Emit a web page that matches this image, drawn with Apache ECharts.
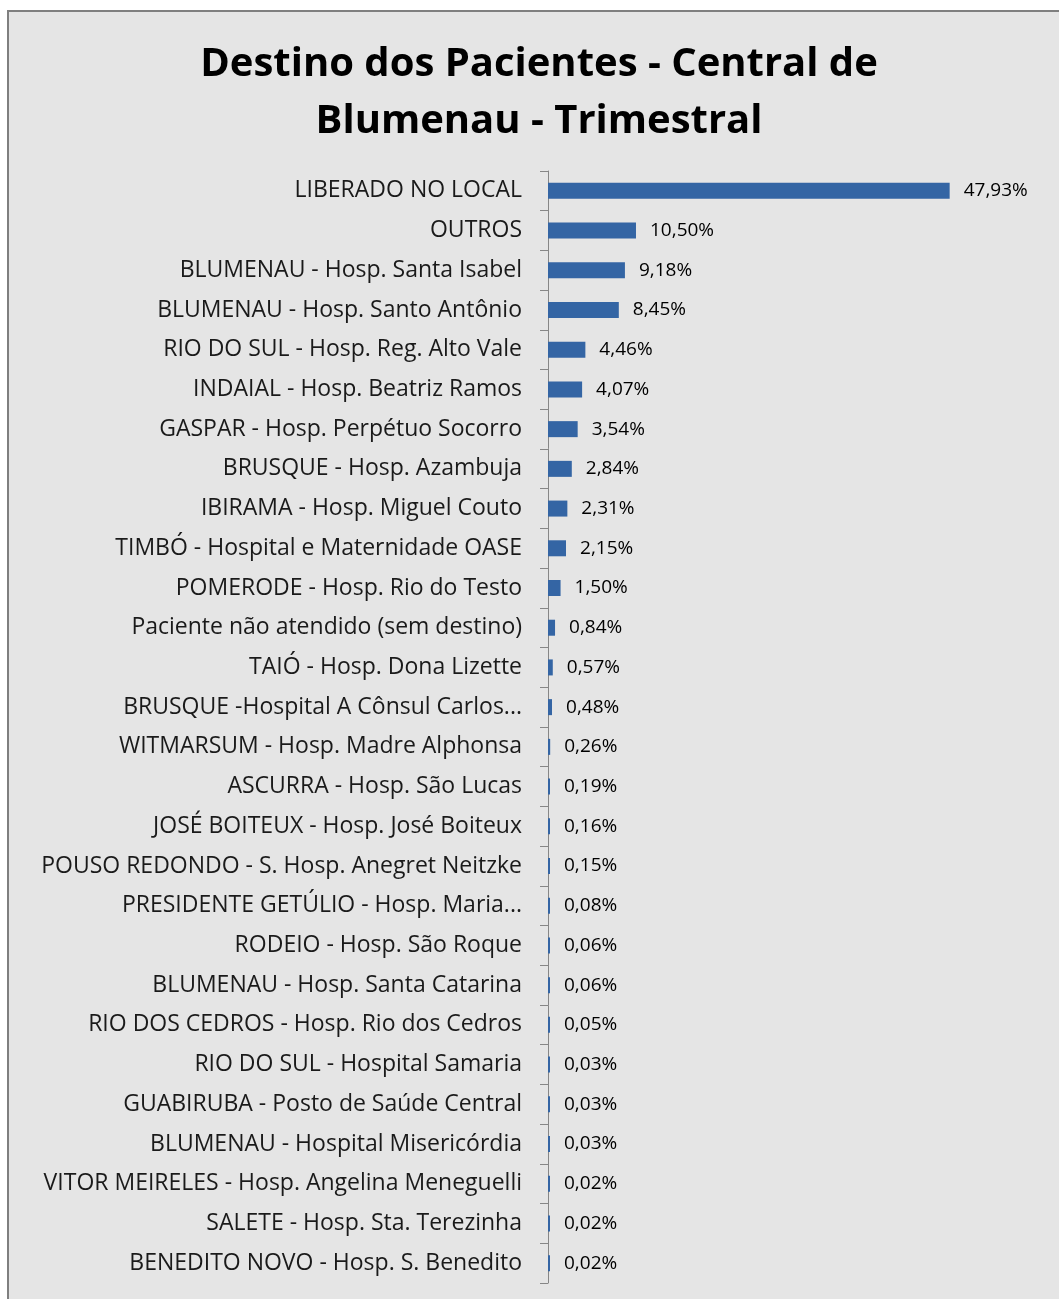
<!DOCTYPE html>
<html>
<head>
<meta charset="utf-8">
<script src="https://cdn.jsdelivr.net/npm/echarts@6/dist/echarts.min.js"></script>
<style>
html, body { margin: 0; padding: 0; background: #fff; overflow: hidden; }
#main {
    position: absolute; left: 7px; top: 10px;
    width: 1060px; height: 1290px;
    border: 2px solid #7f7f7f;
    background: #e5e5e5;
}
</style>
</head>
<body>
<div id="main"></div>
<script>
var titleText = 'Destino dos Pacientes - Central de\nBlumenau - Trimestral';

var destinos = [
    'LIBERADO NO LOCAL',
    'OUTROS',
    'BLUMENAU - Hosp. Santa Isabel',
    'BLUMENAU - Hosp. Santo Antônio',
    'RIO DO SUL - Hosp. Reg. Alto Vale',
    'INDAIAL - Hosp. Beatriz Ramos',
    'GASPAR - Hosp. Perpétuo Socorro',
    'BRUSQUE - Hosp. Azambuja',
    'IBIRAMA - Hosp. Miguel Couto',
    'TIMBÓ - Hospital e Maternidade OASE',
    'POMERODE - Hosp. Rio do Testo',
    'Paciente não atendido (sem destino)',
    'TAIÓ - Hosp. Dona Lizette',
    'BRUSQUE -Hospital A Cônsul Carlos...',
    'WITMARSUM - Hosp. Madre Alphonsa',
    'ASCURRA - Hosp. São Lucas',
    'JOSÉ BOITEUX - Hosp. José Boiteux',
    'POUSO REDONDO - S. Hosp. Anegret Neitzke',
    'PRESIDENTE GETÚLIO - Hosp. Maria...',
    'RODEIO - Hosp. São Roque',
    'BLUMENAU - Hosp. Santa Catarina',
    'RIO DOS CEDROS - Hosp. Rio dos Cedros',
    'RIO DO SUL - Hospital Samaria',
    'GUABIRUBA - Posto de Saúde Central',
    'BLUMENAU - Hospital Misericórdia',
    'VITOR MEIRELES - Hosp. Angelina Meneguelli',
    'SALETE - Hosp. Sta. Terezinha',
    'BENEDITO NOVO - Hosp. S. Benedito'
];

var percentuais = [
    47.93, 10.50, 9.18, 8.45, 4.46, 4.07, 3.54, 2.84, 2.31, 2.15,
    1.50, 0.84, 0.57, 0.48, 0.26, 0.19, 0.16, 0.15, 0.08, 0.06,
    0.06, 0.05, 0.03, 0.03, 0.03, 0.02, 0.02, 0.02
];

var chart = echarts.init(document.getElementById('main'));
var option = {
    backgroundColor: '#e5e5e5',
    animation: false,
    title: {
        text: titleText,
        left: 'center',
        top: 19,
        textStyle: {
            fontFamily: 'Open Sans',
            fontWeight: 'bold',
            fontSize: 40,
            lineHeight: 57,
            color: '#000'
        }
    },
    grid: {
        left: 539,
        right: 102,
        top: 159,
        bottom: 19,
        containLabel: false
    },
    xAxis: {
        type: 'value',
        min: 0,
        max: 50,
        show: false
    },
    yAxis: {
        type: 'category',
        inverse: true,
        data: destinos,
        axisLine: { lineStyle: { color: '#868686', width: 1 } },
        axisTick: { show: true, inside: false, length: 8, lineStyle: { color: '#868686' } },
        axisLabel: {
            margin: 26,
            fontFamily: 'Open Sans',
            fontSize: 23,
            color: '#1a1a1a'
        }
    },
    series: [{
        type: 'bar',
        data: percentuais,
        barWidth: 16,
        barMinHeight: 2,
        itemStyle: { color: '#3465a4' },
        label: {
            show: true,
            position: 'right',
            distance: 14,
            fontFamily: 'Open Sans',
            fontSize: 19,
            color: '#000',
            formatter: function (p) {
                return p.value.toFixed(2).replace('.', ',') + '%';
            }
        }
    }]
};
chart.setOption(option);
</script>
</body>
</html>
